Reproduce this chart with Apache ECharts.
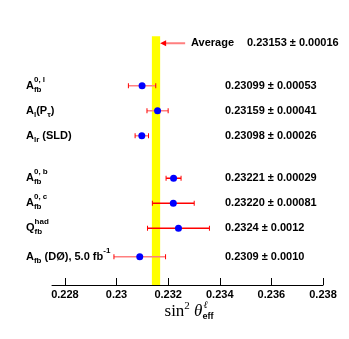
<!DOCTYPE html>
<html>
<head>
<meta charset="utf-8">
<script src="https://cdn.jsdelivr.net/npm/echarts@6/dist/echarts.min.js"></script>
<style>
html, body { margin: 0; background: #fff; }
#chart { width: 349px; height: 339px; }
</style>
</head>
<body>
<div id="chart"></div>
<script>
// measurements, top row first
const labelSegs = [
    [{ t: 'A', sub: 'fb', sup: '0, l' }],
    [{ t: 'A', sub: 'l' }, { t: '(P', sub: 'τ' }, { t: ')' }],
    [{ t: 'A', sub: 'lr' }, { t: ' (SLD)' }],
    [{ t: 'A', sub: 'fb', sup: '0, b' }],
    [{ t: 'A', sub: 'fb', sup: '0, c' }],
    [{ t: 'Q', sub: 'fb', sup: 'had' }],
    [{ t: 'A', sub: 'fb' }, { t: ' (DØ), 5.0 fb', sup: '-1' }]
]
const values = [0.23099, 0.23159, 0.23098, 0.23221, 0.23220, 0.2324, 0.2309]
const errors = [0.00053, 0.00041, 0.00026, 0.00029, 0.00081, 0.0012, 0.0010]
const valueTexts = [
    '0.23099 ± 0.00053',
    '0.23159 ± 0.00041',
    '0.23098 ± 0.00026',
    '0.23221 ± 0.00029',
    '0.23220 ± 0.00081',
    '0.2324 ± 0.0012',
    '0.2309 ± 0.0010'
]
const rowY = [7.97, 6.97, 5.97, 4.27, 3.27, 2.27, 1.13]
const barLight = [true, true, true, false, false, false, true]

const avgValue = 0.23153
const avgError = 0.00016
const avgY = 9.67
const avgText = '0.23153 ± 0.00016'

const tickValues = [0.228, 0.230, 0.232, 0.234, 0.236, 0.238]
const tickLabels = ['0.228', '0.23', '0.232', '0.234', '0.236', '0.238']

const SANS = '"Liberation Sans", Arial, sans-serif'
const mainFont = 'bold 11px ' + SANS
const smallFont = 'bold 8px ' + SANS

const ctx = document.createElement('canvas').getContext('2d')
function textW(t, font) {
    ctx.font = font
    return ctx.measureText(t).width
}

function txt(x, y, t, font, align) {
    return {
        type: 'text', x: x, y: y,
        style: { text: t, font: font, fill: '#000', align: align || 'left', verticalAlign: 'middle' }
    }
}

// draw a label made of segments with sub/superscripts
function segText(segs, x0, y) {
    let out = []
    let x = x0
    for (let s of segs) {
        out.push(txt(x, y, s.t, mainFont))
        x += textW(s.t, mainFont)
        let w = 0
        if (s.sub) {
            out.push(txt(x, y + 4, s.sub, smallFont))
            w = textW(s.sub, smallFont)
        }
        if (s.sup) {
            out.push(txt(x, y - 6, s.sup, smallFont))
            w = Math.max(w, textW(s.sup, smallFont))
        }
        x += w
    }
    return out
}

let chart = echarts.init(document.getElementById('chart'))

// axis title: sin^2 theta_eff^l
const serif = '"Liberation Serif", "DejaVu Serif", serif'
const tMain = '17px ' + serif
const tItal = 'italic 17px ' + serif
const tSup = '11px ' + serif
const tSub = 'bold 9px ' + SANS
let titleParts = []
let tw = textW('sin', tMain) + textW('2', tSup) + textW(' ', tMain) + textW('θ', tItal) + textW('eff', tSub)
let tx = 189 - tw / 2
const ty = 312
titleParts.push(txt(tx, ty, 'sin', tMain)); tx += textW('sin', tMain)
titleParts.push(txt(tx, ty - 6, '2', tSup)); tx += textW('2', tSup) + textW(' ', tMain)
titleParts.push(txt(tx, ty, 'θ', tItal)); tx += textW('θ', tItal)
titleParts.push(txt(tx + 1, ty - 7, 'ℓ', 'italic 10px ' + serif))
titleParts.push(txt(tx, ty + 5, 'eff', tSub))

let option = {
    animation: false,
    grid: { left: 52, right: 26, top: 35, bottom: 54 },
    xAxis: {
        type: 'value',
        min: 0.2275,
        max: 0.238,
        axisLine: { lineStyle: { color: '#000', width: 1 } },
        axisTick: { inside: true, length: 7, customValues: tickValues, lineStyle: { color: '#000' } },
        axisLabel: {
            customValues: tickValues,
            margin: 4,
            color: '#000',
            fontWeight: 'bold',
            fontSize: 11,
            fontFamily: SANS,
            formatter(v) {
                let i = tickValues.findIndex(t => Math.abs(t - v) < 1e-9)
                return i >= 0 ? tickLabels[i] : ''
            }
        },
        splitLine: { show: false }
    },
    yAxis: { type: 'value', min: 0, max: 10, show: false },
    graphic: [{ type: 'group', children: titleParts }],
    series: [
        // average band
        {
            type: 'custom',
            z: 1,
            data: [[avgValue, avgError]],
            renderItem(params, api) {
                let a = api.coord([api.value(0) - api.value(1), 9.95])
                let b = api.coord([api.value(0) + api.value(1), 0])
                return { type: 'rect', shape: { x: a[0], y: a[1], width: b[0] - a[0], height: b[1] - a[1] }, style: { fill: '#ffff00' } }
            }
        },
        // average arrow + text
        {
            type: 'custom',
            z: 3,
            data: [[avgValue, avgError, avgY]],
            renderItem(params, api) {
                let p = api.coord([api.value(0) + api.value(1), api.value(2)])
                let x = p[0], y = p[1]
                let cx = params.coordSys.x
                return {
                    type: 'group',
                    children: [
                        { type: 'line', shape: { x1: x + 4, y1: y, x2: x + 25, y2: y }, style: { stroke: '#ff7f7f', lineWidth: 2 } },
                        { type: 'polygon', shape: { points: [[x, y], [x + 6, y - 3], [x + 6, y + 3]] }, style: { fill: '#ff0000' } },
                        txt(cx + 139, y, 'Average', mainFont),
                        txt(cx + 195, y, avgText, mainFont)
                    ]
                }
            }
        },
        // error bars
        {
            type: 'custom',
            z: 4,
            data: values.map((v, i) => [v, errors[i], rowY[i], i]),
            renderItem(params, api) {
                let i = api.value(3)
                let a = api.coord([api.value(0) - api.value(1), api.value(2)])
                let b = api.coord([api.value(0) + api.value(1), api.value(2)])
                let y = a[1]
                let col = barLight[i] ? '#ff7f7f' : '#ff0000'
                return {
                    type: 'group',
                    children: [
                        { type: 'line', shape: { x1: a[0], y1: y, x2: b[0], y2: y }, style: { stroke: col, lineWidth: 1.5 } },
                        { type: 'line', shape: { x1: a[0], y1: y - 2.5, x2: a[0], y2: y + 2.5 }, style: { stroke: '#ff0000', lineWidth: 1 } },
                        { type: 'line', shape: { x1: b[0], y1: y - 2.5, x2: b[0], y2: y + 2.5 }, style: { stroke: '#ff0000', lineWidth: 1 } }
                    ]
                }
            }
        },
        // points
        {
            type: 'scatter',
            z: 5,
            symbol: 'circle',
            symbolSize: 7,
            itemStyle: { color: '#0000ff', opacity: 1 },
            data: values.map((v, i) => [v, rowY[i]])
        },
        // left labels and right values
        {
            type: 'custom',
            z: 6,
            data: rowY.map((y, i) => [0.2275, y, i]),
            renderItem(params, api) {
                let i = api.value(2)
                let p = api.coord([api.value(0), api.value(1)])
                let cx = params.coordSys.x
                let kids = segText(labelSegs[i], cx - 26, p[1])
                kids.push(txt(cx + 173, p[1], valueTexts[i], mainFont))
                return { type: 'group', children: kids }
            }
        }
    ]
}

chart.setOption(option)
</script>
</body>
</html>
